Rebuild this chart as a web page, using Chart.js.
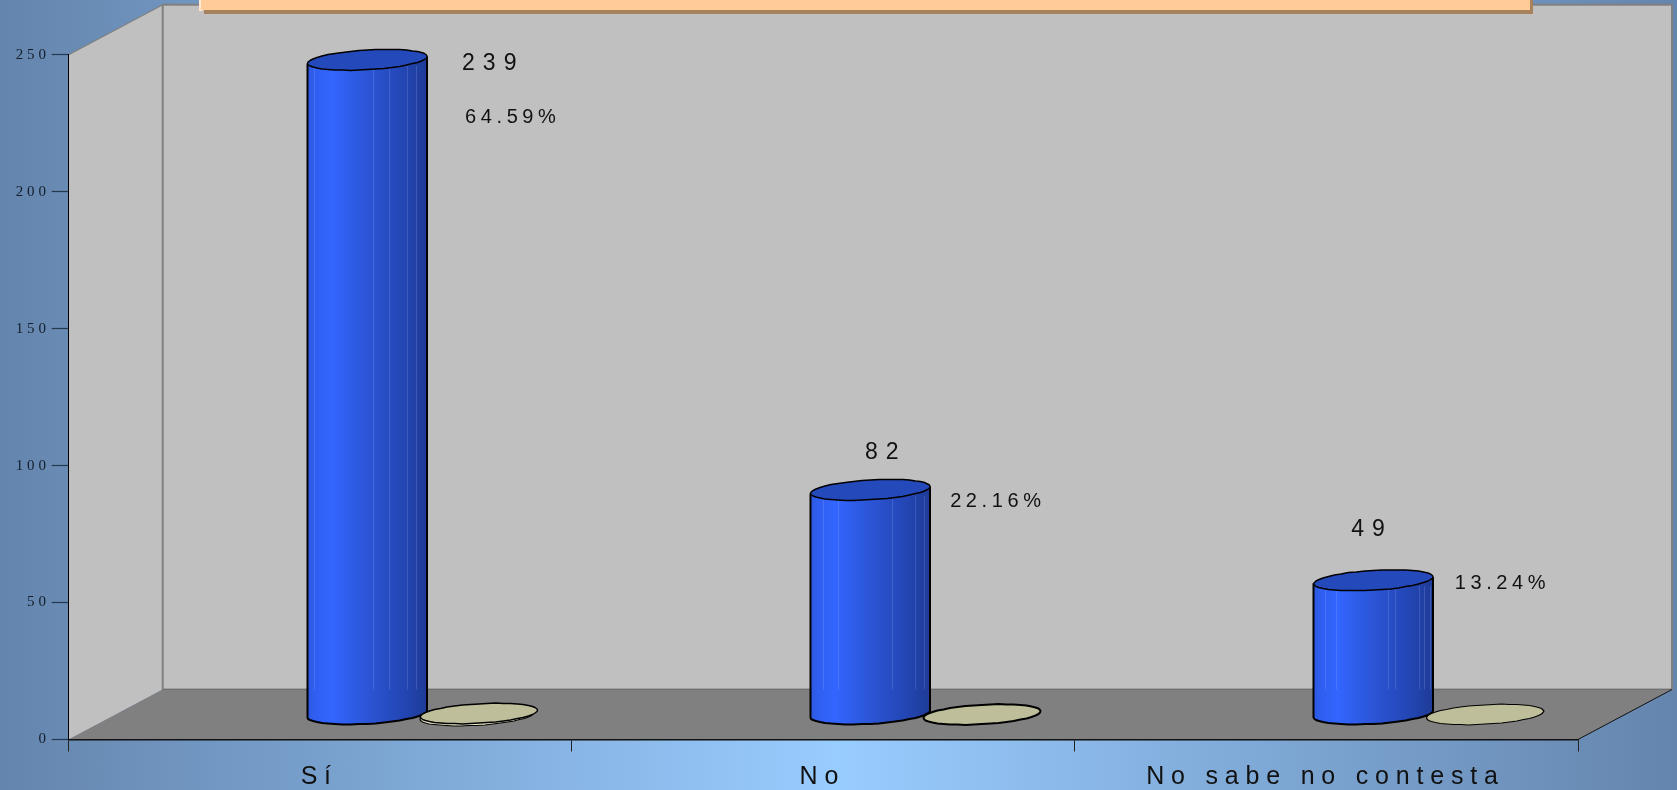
<!DOCTYPE html>
<html lang="es">
<head>
<meta charset="utf-8">
<title>Sí / No / No sabe no contesta</title>
<script src="https://cdn.jsdelivr.net/npm/chart.js@4"></script>
<style>
html,body{margin:0;padding:0;width:1677px;height:790px;overflow:hidden;
background:linear-gradient(90deg,#6485ad 0%,#99ccff 50%,#6485ad 100%);}
canvas{display:block;}
</style>
</head>
<body>
<canvas id="c" width="1677" height="790"></canvas>
<script>
// ---- data ----
const categories = ['Sí', 'No', 'No sabe no contesta'];
const counts = [239, 82, 49];
const percentages = [64.59, 22.16, 13.24];
const discValues = [0, 0, 0];
const emptySlot = [null, null, null];
const yMax = 250;
const yStep = 50;

// ---- style & layout ----
const DEPTH_X = 94, DEPTH_Y = 50;
const FONT = '"Liberation Sans", Arial, sans-serif';
const facetLines = [[.05,.55,.68,.83,.91],[.1,.23,.68,.87,.95],[.09,.19,.62,.68,.88,.92,.97]];
const countLabelOffset = [[122,4],[11.5,-37],[-5.5,-51]];
const pctLabelOffset = [[143,57.5],[125,11.5],[126.5,3.5]];
const discUnderlay = [2,0,0];
const discStroke = [1.4,2,1.2];
let activeChart = null;

function ellipsePoint(cx, cy, hw, t){
  return [Math.round((cx + hw*.944*Math.cos(t) + hw*.331*Math.sin(t))*2)/2,
          Math.round((cy - hw*.175*Math.sin(t))*2)/2];
}
const T0 = Math.atan2(.331,.944);
function tracePoints(ctx, cx, cy, hw, from, to, n, move){
  for(let i=0;i<=n;i++){
    const p = ellipsePoint(cx,cy,hw,from+(to-from)*i/n);
    if(i===0 && move) ctx.moveTo(p[0],p[1]); else ctx.lineTo(p[0],p[1]);
  }
}
function fullEllipse(ctx,cx,cy,hw){
  ctx.beginPath();
  tracePoints(ctx,cx,cy,hw,T0,T0+Math.PI*2,44,true);
  ctx.closePath();
}

// Bars keep the library's x / y / base / width, and are rendered as cylinders
// standing half-way into the depth of the 3D box.
Chart.BarElement.prototype.draw = function(ctx){
  const {x,y,base,width} = this.getProps(['x','y','base','width']);
  if(Math.abs(base-y) < 1) return;                 // flat discs come later
  const cx = x + DEPTH_X/2, top = y - DEPTH_Y/2, bot = base - DEPTH_Y/2, hw = width/2;
  const idx = activeChart.getDatasetMeta(1).data.indexOf(this);
  const L = cx-hw, R = cx+hw;
  ctx.save();
  const g = ctx.createLinearGradient(L,0,R,0);
  g.addColorStop(0,'#2d59e0'); g.addColorStop(.06,'#2f5ef0'); g.addColorStop(.2,'#3366ff');
  g.addColorStop(.5,'#2b55d6'); g.addColorStop(.8,'#2346b4'); g.addColorStop(1,'#1e3b96');
  ctx.beginPath();
  const tl = ellipsePoint(cx,top,hw,T0+Math.PI), tr = ellipsePoint(cx,top,hw,T0);
  ctx.moveTo(tl[0],tl[1]);
  const bl = ellipsePoint(cx,bot,hw,T0+Math.PI);
  ctx.lineTo(bl[0],bl[1]);
  tracePoints(ctx,cx,bot,hw,T0-Math.PI,T0,22,false);
  ctx.lineTo(tr[0],tr[1]);
  ctx.closePath();
  ctx.fillStyle = g; ctx.fill();
  // thin facet highlights, stopping at the floor line
  const floorY = activeChart.scales.y.bottom - DEPTH_Y;
  ctx.strokeStyle = 'rgba(170,190,255,.2)'; ctx.lineWidth = 1;
  (facetLines[idx]||[]).forEach(f=>{
    const fx = Math.round(L + f*width)+.5;
    ctx.beginPath(); ctx.moveTo(fx,top+6); ctx.lineTo(fx,floorY); ctx.stroke();
  });
  ctx.strokeStyle = '#000'; ctx.lineWidth = 2; ctx.lineJoin='round';
  ctx.beginPath();
  ctx.moveTo(tl[0],tl[1]); ctx.lineTo(bl[0],bl[1]);
  tracePoints(ctx,cx,bot,hw,T0-Math.PI,T0,22,false);
  ctx.lineTo(tr[0],tr[1]);
  ctx.stroke();
  fullEllipse(ctx,cx,top,hw);
  ctx.fillStyle = this.options.backgroundColor; ctx.fill();
  ctx.lineWidth = 1.4; ctx.stroke();
  ctx.restore();
};

const boxPlugin = {
  id:'box3d',
  beforeDraw(chart){
    activeChart = chart;
    const {ctx, chartArea:{left,right,top,bottom}} = chart;
    const bx = left+DEPTH_X, by = bottom-DEPTH_Y, rx = right+DEPTH_X, ty = top-DEPTH_Y;
    ctx.save();
    // left wall
    ctx.beginPath(); ctx.moveTo(left,bottom); ctx.lineTo(left,top); ctx.lineTo(bx,ty); ctx.lineTo(bx,by); ctx.closePath();
    ctx.fillStyle='#c0c0c0'; ctx.fill();
    ctx.strokeStyle='#808080'; ctx.lineWidth=1.2;
    ctx.beginPath(); ctx.moveTo(left,top); ctx.lineTo(bx,ty); ctx.stroke();
    // back wall
    ctx.fillStyle='#c0c0c0'; ctx.fillRect(bx,ty,rx-bx,by-ty);
    ctx.strokeStyle='#808080'; ctx.lineWidth=2;
    ctx.strokeRect(bx,ty,rx-bx,by-ty);
    // floor
    ctx.beginPath(); ctx.moveTo(left,bottom); ctx.lineTo(bx,by); ctx.lineTo(rx,by); ctx.lineTo(right,bottom); ctx.closePath();
    ctx.fillStyle='#808080'; ctx.fill();
    ctx.strokeStyle='#6f6f6f'; ctx.lineWidth=1;
    ctx.beginPath(); ctx.moveTo(bx,by); ctx.lineTo(rx,by); ctx.stroke();
    ctx.strokeStyle='#111'; ctx.lineWidth=1;
    ctx.beginPath(); ctx.moveTo(right,bottom); ctx.lineTo(rx,by); ctx.stroke();
    ctx.restore();
  },
  afterDatasetsDraw(chart){
    const {ctx} = chart;
    const discs = chart.getDatasetMeta(2).data;
    const bars = chart.getDatasetMeta(1).data;
    ctx.save();
    discs.forEach((d,i)=>{
      const cx = d.x + DEPTH_X/2 - 1, cy = d.y - DEPTH_Y/2, hw = d.width/2 - 1;
      if(discUnderlay[i]){
        fullEllipse(ctx,cx-2,cy+discUnderlay[i]-.5,hw-2);
        ctx.fillStyle='#ecebc8'; ctx.fill();
        ctx.strokeStyle='#000'; ctx.lineWidth=1.2; ctx.stroke();
      }
      fullEllipse(ctx,cx,cy-(discUnderlay[i]?1:0),hw);
      ctx.fillStyle=d.options.backgroundColor; ctx.fill();
      ctx.strokeStyle='#000'; ctx.lineWidth=discStroke[i]; ctx.lineJoin='round'; ctx.stroke();
    });
    // value and percentage labels
    ctx.fillStyle='#111'; ctx.textAlign='center'; ctx.textBaseline='middle';
    bars.forEach((b,i)=>{
      const cx = b.x + DEPTH_X/2, cy = b.y - DEPTH_Y/2;
      ctx.font='23px '+FONT; ctx.letterSpacing='8px';
      ctx.fillText(String(counts[i]), cx+countLabelOffset[i][0]+4, cy+countLabelOffset[i][1]);
      ctx.font='20px '+FONT; ctx.letterSpacing='4.6px';
      ctx.fillText(percentages[i].toFixed(2)+'%', cx+pctLabelOffset[i][0]+2.5, cy+pctLabelOffset[i][1]);
    });
    ctx.letterSpacing='0px';
    ctx.restore();
  },
  afterDraw(chart){
    // title panel, cut off by the top of the frame
    const {ctx} = chart;
    ctx.save();
    ctx.fillStyle='#a8825c'; ctx.fillRect(204,0,1329,14);
    ctx.fillStyle='#ffe9d2'; ctx.fillRect(199,0,4,11);
    ctx.fillStyle='#ffcc99'; ctx.fillRect(201,0,1329,10);
    ctx.restore();
  },
  afterLayout(chart){
    // Letter-spaced axis text, as in the original slide
    const spaced = (scale,sp,dx)=>{
      if(scale.__spaced) return;
      const orig = scale.drawLabels;
      scale.drawLabels = function(a){
        const c = this.ctx; c.save(); c.letterSpacing = sp; c.translate(dx,0); orig.call(this,a); c.restore();
      };
      scale.__spaced = true;
    };
    spaced(chart.scales.x,'6.8px',-1);
    spaced(chart.scales.y,'3.8px',0);
  }
};

new Chart(document.getElementById('c'),{
  type:'bar',
  plugins:[boxPlugin],
  data:{
    labels:categories,
    datasets:[
      {label:'', data:emptySlot, clip:false},
      {label:'Respuestas', data:counts, backgroundColor:'#2449bb', borderColor:'#000', clip:false},
      {label:'', data:discValues, backgroundColor:'#bebe9a', borderColor:'#000', clip:false}
    ]
  },
  options:{
    responsive:false,
    animation:false,
    events:[],
    categoryPercentage:.6716,
    barPercentage:1.06,
    layout:{padding:{top:54.7,right:99,left:0,bottom:0}},
    plugins:{legend:{display:false},title:{display:false},tooltip:{enabled:false}},
    scales:{
      x:{
        afterFit(s){s.height=50.5;},
        grid:{drawOnChartArea:false,drawTicks:true,tickLength:12,tickColor:'#222',tickWidth:1},
        border:{display:true,color:'#111',width:1.4},
        ticks:{autoSkip:false,maxRotation:0,minRotation:0,color:'#111',padding:11,
               font:{family:'"Liberation Sans", Arial, sans-serif',size:25}}
      },
      y:{
        min:0,max:yMax,
        afterFit(s){s.width=68.7;},
        grid:{drawOnChartArea:false,drawTicks:true,tickLength:17,tickColor:'#26384f',tickWidth:1.2},
        border:{display:true,color:'#000',width:1},
        ticks:{stepSize:yStep,color:'#141e2c',padding:2,
               font:{family:'"Liberation Serif", "Times New Roman", serif',size:15}}
      }
    }
  }
});
</script>
</body>
</html>
